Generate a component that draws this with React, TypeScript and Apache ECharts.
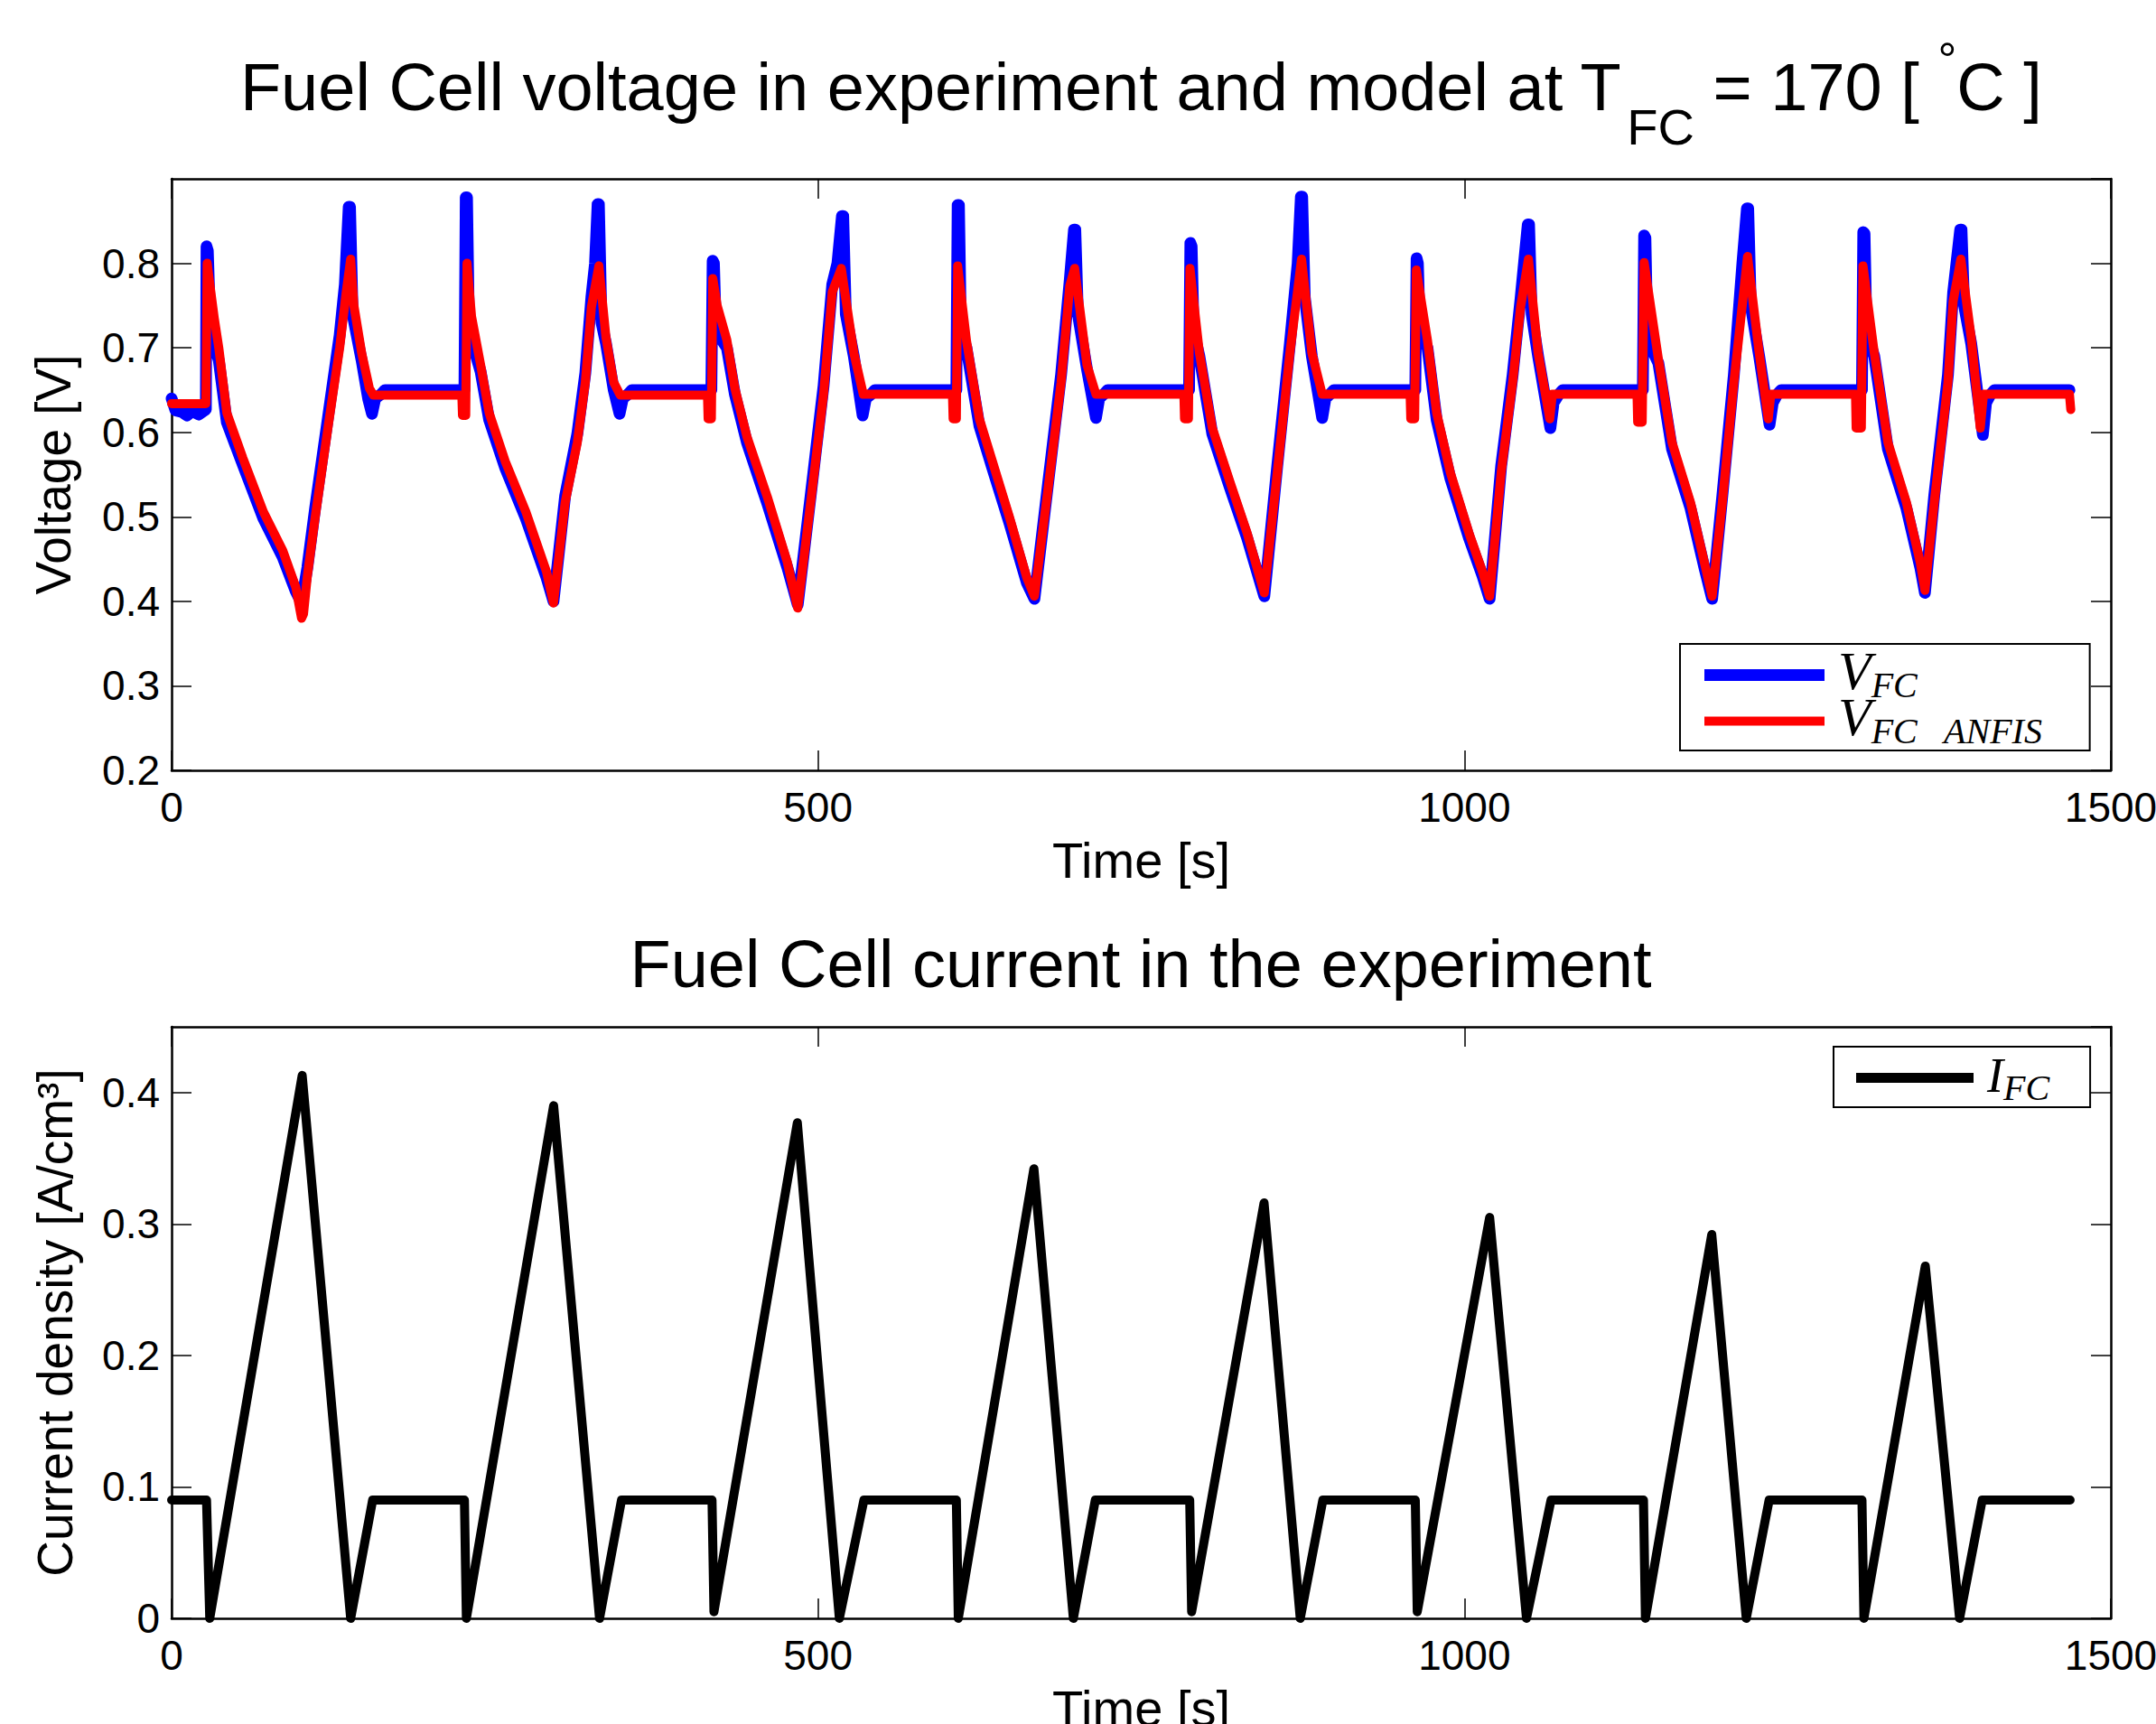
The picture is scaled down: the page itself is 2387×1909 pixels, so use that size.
import React, { useEffect, useRef } from "react";
import * as echarts from "echarts";

// ---------- data ----------
const timeRange = { min: 0, max: 1500, interval: 500 };
const voltageRange = { min: 0.2, max: 0.9, interval: 0.1 };
const currentRange = { min: 0, max: 0.45, interval: 0.1 };

const seriesNames = ["V_FC", "V_FC_ANFIS", "I_FC"];

// Experimental fuel-cell voltage [t (s), V]
const vfcExperiment: [number, number][] = [
  [0, 0.64], [3, 0.626], [8, 0.624], [12, 0.62], [16, 0.625], [21, 0.621], [26.5, 0.627],
  [27, 0.82], [28, 0.815], [30, 0.72], [36.5, 0.685], [42.7, 0.612], [55, 0.562], [71, 0.498], [86, 0.452], [96, 0.412], [100.5, 0.398],
  [105, 0.44], [111, 0.51], [121, 0.618], [130, 0.715], [134, 0.775], [137, 0.867], [138, 0.867], [140, 0.74], [147, 0.685], [152, 0.64], [155, 0.622], [157.5, 0.64], [162, 0.645], [165, 0.65],
  [226.5, 0.65], [227.5, 0.878], [228.5, 0.878], [230, 0.72], [239, 0.672], [245.6, 0.615], [258, 0.558], [274, 0.498], [290, 0.428], [295.4, 0.4],
  [304.4, 0.525], [313.8, 0.598], [320, 0.67], [324.7, 0.76], [327.5, 0.8], [329.5, 0.87], [330.5, 0.87], [332.5, 0.73], [336, 0.705], [342, 0.65], [346.5, 0.622], [349, 0.64], [353, 0.645], [356, 0.65],
  [417.5, 0.65], [418.5, 0.803], [419.5, 0.8], [421, 0.72], [429.5, 0.7], [435.7, 0.645], [445, 0.588], [460.7, 0.516], [476.3, 0.44], [484.3, 0.396],
  [494.3, 0.525], [504.3, 0.655], [511, 0.775], [515, 0.8], [518.5, 0.856], [519.5, 0.856], [521.5, 0.74], [527.7, 0.69], [534.5, 0.62], [537, 0.64], [541, 0.645], [544, 0.65],
  [607, 0.65], [608, 0.869], [609, 0.869], [610.5, 0.72], [614.8, 0.7], [624.8, 0.608], [634.8, 0.558], [648.2, 0.492], [661.5, 0.422], [667.4, 0.403],
  [678, 0.54], [688, 0.668], [694.7, 0.78], [698, 0.84], [699, 0.84], [701, 0.74], [708, 0.675], [715, 0.617], [717.5, 0.64], [721, 0.645], [724, 0.65],
  [787, 0.65], [788, 0.824], [789, 0.82], [790.5, 0.72], [795, 0.69], [805, 0.598], [818.5, 0.535], [831.9, 0.475], [845.2, 0.406],
  [855.2, 0.56], [865, 0.705], [871, 0.8], [873.5, 0.879], [874.5, 0.879], [876.5, 0.76], [882, 0.69], [890, 0.617], [892.5, 0.64], [896, 0.645], [899, 0.65],
  [962, 0.65], [963, 0.806], [964, 0.8], [965.5, 0.72], [971.4, 0.7], [978.5, 0.615], [989.2, 0.545], [1003.5, 0.475], [1014, 0.43], [1019.5, 0.403],
  [1028.4, 0.56], [1037.3, 0.668], [1043.4, 0.758], [1049, 0.846], [1050, 0.846], [1052, 0.74], [1057, 0.69], [1066.5, 0.605], [1069, 0.635], [1073, 0.645], [1076, 0.65],
  [1138, 0.65], [1139, 0.833], [1140, 0.83], [1141.5, 0.71], [1150, 0.682], [1160.6, 0.58], [1174.9, 0.51], [1185.6, 0.44], [1191.6, 0.403],
  [1199.5, 0.525], [1208.4, 0.668], [1215, 0.8], [1218.5, 0.865], [1219.5, 0.865], [1221.5, 0.75], [1228, 0.69], [1236, 0.609], [1238.5, 0.635], [1242, 0.645], [1245, 0.65],
  [1307.5, 0.65], [1308.5, 0.837], [1309.5, 0.835], [1311, 0.72], [1317, 0.69], [1327.6, 0.58], [1341.9, 0.51], [1352.6, 0.44], [1356.2, 0.41],
  [1363.4, 0.525], [1374, 0.668], [1378, 0.765], [1383.5, 0.84], [1384.5, 0.84], [1386.5, 0.75], [1392, 0.705], [1401, 0.597], [1403.5, 0.635], [1407, 0.645], [1410, 0.65],
  [1468, 0.65],
];

// ANFIS model voltage [t (s), V]
const vfcAnfis: [number, number][] = [
  [0, 0.634], [26.5, 0.634], [27.5, 0.8], [30, 0.77], [33, 0.735], [36.5, 0.7], [42.7, 0.623], [55, 0.57], [71, 0.506], [86, 0.46], [96, 0.417], [100.5, 0.38], [102, 0.385],
  [105, 0.43], [111, 0.499], [121, 0.606], [130, 0.7], [135, 0.765], [138.5, 0.805], [141, 0.75], [147, 0.694], [153, 0.652], [156, 0.644],
  [224.5, 0.644], [225, 0.62], [227.5, 0.62], [228.5, 0.8], [232, 0.737], [239, 0.68], [245.6, 0.623], [258, 0.566], [274, 0.506], [290, 0.435], [295.4, 0.398],
  [304.4, 0.517], [313.8, 0.588], [320, 0.659], [324.7, 0.748], [330.5, 0.797], [336, 0.712], [342, 0.659], [347, 0.644],
  [414.5, 0.644], [415, 0.616], [417.5, 0.616], [418.6, 0.782], [422, 0.75], [429.5, 0.709], [435.7, 0.652], [445, 0.595], [460.7, 0.524], [476.3, 0.446], [484.3, 0.392],
  [494.3, 0.517], [504.3, 0.645], [511, 0.766], [518, 0.794], [527.7, 0.694], [535, 0.645],
  [604, 0.645], [604.5, 0.616], [607, 0.616], [608, 0.797], [614.8, 0.709], [624.8, 0.616], [634.8, 0.566], [648.2, 0.499], [661.5, 0.428], [667.4, 0.406],
  [678, 0.534], [688, 0.659], [694.7, 0.773], [698.5, 0.794], [708, 0.68], [715, 0.645],
  [783, 0.645], [783.5, 0.616], [786.5, 0.616], [787.7, 0.794], [795, 0.694], [805, 0.605], [818.5, 0.542], [831.9, 0.481], [845.2, 0.41],
  [855.2, 0.552], [865, 0.694], [874, 0.805], [882, 0.694], [890, 0.645],
  [958, 0.645], [958.5, 0.616], [961.5, 0.616], [962.8, 0.792], [971.4, 0.709], [978.5, 0.623], [989.2, 0.552], [1003.5, 0.481], [1014, 0.435], [1019.5, 0.406],
  [1028.4, 0.552], [1037.3, 0.659], [1043.4, 0.748], [1049.5, 0.805], [1057, 0.694], [1066, 0.616], [1068, 0.645],
  [1133.5, 0.645], [1134, 0.612], [1137.5, 0.612], [1139, 0.801], [1150, 0.687], [1160.6, 0.588], [1174.9, 0.517], [1185.6, 0.446], [1191.6, 0.406],
  [1199.5, 0.517], [1208.4, 0.659], [1219, 0.808], [1228, 0.694], [1235, 0.616], [1237, 0.645],
  [1302.5, 0.645], [1303, 0.605], [1307, 0.605], [1308.3, 0.797], [1317, 0.694], [1327.6, 0.588], [1341.9, 0.517], [1352.6, 0.446], [1356.2, 0.413],
  [1363.4, 0.517], [1374, 0.659], [1378, 0.755], [1384, 0.805], [1392, 0.712], [1399, 0.605], [1401.5, 0.645],
  [1468, 0.645], [1469, 0.627],
];

// Experimental current density [t (s), A/cm^3]
const ifcCurrent: [number, number][] = [
  [0, 0.09], [27, 0.09], [29.5, 0.0], [101, 0.413], [138.5, 0.0], [155.5, 0.09],
  [226.5, 0.09], [228, 0.0], [295.5, 0.39], [331, 0.0], [348, 0.09],
  [418, 0.09], [419.5, 0.005], [484, 0.377], [516.5, 0.0], [535.5, 0.09],
  [607, 0.09], [608.5, 0.0], [667, 0.342], [697.5, 0.0], [714.5, 0.09],
  [787.5, 0.09], [789, 0.005], [845, 0.316], [873, 0.0], [890.5, 0.09],
  [962, 0.09], [963.5, 0.005], [1019.5, 0.305], [1048, 0.0], [1067, 0.09],
  [1138.5, 0.09], [1140, 0.0], [1191.3, 0.292], [1218, 0.0], [1235.7, 0.09],
  [1307.5, 0.09], [1309, 0.0], [1356.5, 0.268], [1383, 0.0], [1400.5, 0.09],
  [1468.5, 0.09],
];

// ---------- styling ----------
const FONT = "'Liberation Sans', Arial, Helvetica, sans-serif";
const SERIF = "'Liberation Serif', 'Times New Roman', Times, serif";
const BLACK = "#000000";

const legendLabels: Record<string, string> = {
  V_FC: "{v|V}{s|FC}",
  V_FC_ANFIS: "{v|V}{s2|FC   ANFIS}",
  I_FC: "{i|I}{s|FC}",
};

const plainNumber = (v: number) => String(Math.round(v * 1000) / 1000);

function xAxisDef(gridIndex: number, position: "top" | "bottom", withLabels: boolean) {
  return {
    type: "value",
    gridIndex,
    position,
    ...timeRange,
    axisLine: { show: true, onZero: false, lineStyle: { color: BLACK, width: 2.5 } },
    axisTick: { show: true, inside: true, length: 22, lineStyle: { color: BLACK, width: 1.5 } },
    axisLabel: {
      show: withLabels,
      color: BLACK,
      fontSize: 46,
      lineHeight: 46,
      fontFamily: FONT,
      margin: 18,
      formatter: plainNumber,
    },
    splitLine: { show: false },
    name: withLabels ? "Time [s]" : "",
    nameLocation: "middle",
    nameGap: 71,
    nameTextStyle: { color: BLACK, fontSize: 56, lineHeight: 56, fontFamily: FONT },
  };
}

function yAxisDef(
  gridIndex: number,
  position: "left" | "right",
  range: { min: number; max: number; interval: number },
  withLabels: boolean,
  name: string,
  nameGap: number
) {
  return {
    type: "value",
    gridIndex,
    position,
    ...range,
    axisLine: { show: true, onZero: false, lineStyle: { color: BLACK, width: 2.5 } },
    axisTick: { show: true, inside: true, length: 22, lineStyle: { color: BLACK, width: 1.5 } },
    axisLabel: {
      show: withLabels,
      color: BLACK,
      fontSize: 46,
      fontFamily: FONT,
      margin: 13,
      showMaxLabel: false,
      formatter: plainNumber,
    },
    splitLine: { show: false },
    name: withLabels ? name : "",
    nameLocation: "middle",
    nameGap,
    nameTextStyle: { color: BLACK, fontSize: 55, lineHeight: 56, fontFamily: FONT },
  };
}

const legendRich = {
  v: { fontFamily: SERIF, fontStyle: "italic", fontSize: 60, height: 18, lineHeight: 40, padding: [0, 0, 9, 10], color: BLACK },
  i: { fontFamily: SERIF, fontStyle: "italic", fontSize: 54, height: 18, lineHeight: 40, padding: [0, 0, 5, 10], color: BLACK },
  s: { fontFamily: SERIF, fontStyle: "italic", fontSize: 40, height: 18, lineHeight: 40, padding: [21, 0, 0, 0], color: BLACK },
  s2: { fontFamily: SERIF, fontStyle: "italic", fontSize: 40, height: 18, lineHeight: 40, padding: [21, 0, 0, 0], width: 209, color: BLACK },
};

function buildOption() {
  const titleRich = {
    m: { fontFamily: FONT, fontSize: 74, fontWeight: "normal", lineHeight: 150, color: BLACK },
    s: { fontFamily: FONT, fontSize: 56, fontWeight: "normal", height: 56, lineHeight: 150, padding: [88, 0, 0, 6], color: BLACK },
    d: { fontFamily: FONT, fontSize: 52, fontWeight: "normal", height: 52, lineHeight: 150, padding: [0, 0, 61, 0], color: BLACK },
  };
  return {
    animation: false,
    backgroundColor: "#ffffff",
    textStyle: { fontFamily: FONT, color: BLACK },
    title: [
      {
        text: "{m|Fuel Cell voltage in experiment and model at T}{s|FC}{m| = 170 [ }{d|°}{m|C ]}",
        left: 1263,
        top: 21,
        textAlign: "center",
        textVerticalAlign: "top",
        padding: 0,
        textStyle: { fontFamily: FONT, fontWeight: "normal", fontSize: 74, color: BLACK, rich: titleRich },
      },
      {
        text: "Fuel Cell current in the experiment",
        left: 1263,
        top: 1017,
        textAlign: "center",
        textVerticalAlign: "top",
        padding: 0,
        textStyle: { fontFamily: FONT, fontWeight: "normal", fontSize: 74, lineHeight: 100, color: BLACK },
      },
    ],
    grid: [
      { left: 190, top: 198, width: 2147, height: 655, show: false, containLabel: false, outerBoundsMode: "none" },
      { left: 190, top: 1137, width: 2147, height: 655, show: false, containLabel: false, outerBoundsMode: "none" },
    ],
    xAxis: [
      xAxisDef(0, "bottom", true),
      xAxisDef(0, "top", false),
      xAxisDef(1, "bottom", true),
      xAxisDef(1, "top", false),
    ],
    yAxis: [
      yAxisDef(0, "left", voltageRange, true, "Voltage [V]", 103),
      yAxisDef(0, "right", voltageRange, false, "", 0),
      yAxisDef(1, "left", currentRange, true, "Current density [A/cm³]", 101),
      yAxisDef(1, "right", currentRange, false, "", 0),
    ],
    legend: [
      {
        orient: "vertical",
        left: 1860,
        top: 713,
        padding: [0, 33, 2, 27],
        itemGap: -14,
        itemWidth: 133,
        itemHeight: 13,
        backgroundColor: "#ffffff",
        borderColor: BLACK,
        borderWidth: 2,
        borderRadius: 0,
        selectedMode: false,
        data: [
          { name: seriesNames[0], icon: "rect" },
          { name: seriesNames[1], icon: "path://M0,0L133,0L133,10L0,10Z" },
        ],
        formatter: (n: string) => legendLabels[n],
        textStyle: { color: BLACK, rich: legendRich },
      },
      {
        orient: "vertical",
        left: 2030,
        top: 1159,
        padding: [5, 45, 2, 25],
        itemWidth: 130,
        itemHeight: 11,
        backgroundColor: "#ffffff",
        borderColor: BLACK,
        borderWidth: 2,
        borderRadius: 0,
        selectedMode: false,
        data: [{ name: seriesNames[2], icon: "rect" }],
        formatter: (n: string) => legendLabels[n],
        textStyle: { color: BLACK, rich: legendRich },
      },
    ],
    series: [
      {
        name: seriesNames[0],
        type: "line",
        xAxisIndex: 0,
        yAxisIndex: 0,
        data: vfcExperiment,
        showSymbol: false,
        symbol: "none",
        lineStyle: { color: "#0000ff", width: 13, cap: "round", join: "round" },
        itemStyle: { color: "#0000ff" },
        z: 2,
      },
      {
        name: seriesNames[1],
        type: "line",
        xAxisIndex: 0,
        yAxisIndex: 0,
        data: vfcAnfis,
        showSymbol: false,
        symbol: "none",
        lineStyle: { color: "#ff0000", width: 10, cap: "round", join: "round" },
        itemStyle: { color: "#ff0000" },
        z: 3,
      },
      {
        name: seriesNames[2],
        type: "line",
        xAxisIndex: 2,
        yAxisIndex: 2,
        data: ifcCurrent,
        showSymbol: false,
        symbol: "none",
        lineStyle: { color: BLACK, width: 10, cap: "round", join: "round" },
        itemStyle: { color: BLACK },
        z: 2,
      },
    ],
  };
}

export default function App() {
  const ref = useRef<HTMLDivElement | null>(null);
  useEffect(() => {
    if (!ref.current) return;
    const chart = echarts.init(ref.current, null, { renderer: "svg" });
    chart.setOption(buildOption() as any);
    return () => {
      chart.dispose();
    };
  }, []);
  return (
    <div
      ref={ref}
      style={{ position: "absolute", left: 0, top: 0, width: "2387px", height: "1909px", background: "#fff" }}
    />
  );
}
